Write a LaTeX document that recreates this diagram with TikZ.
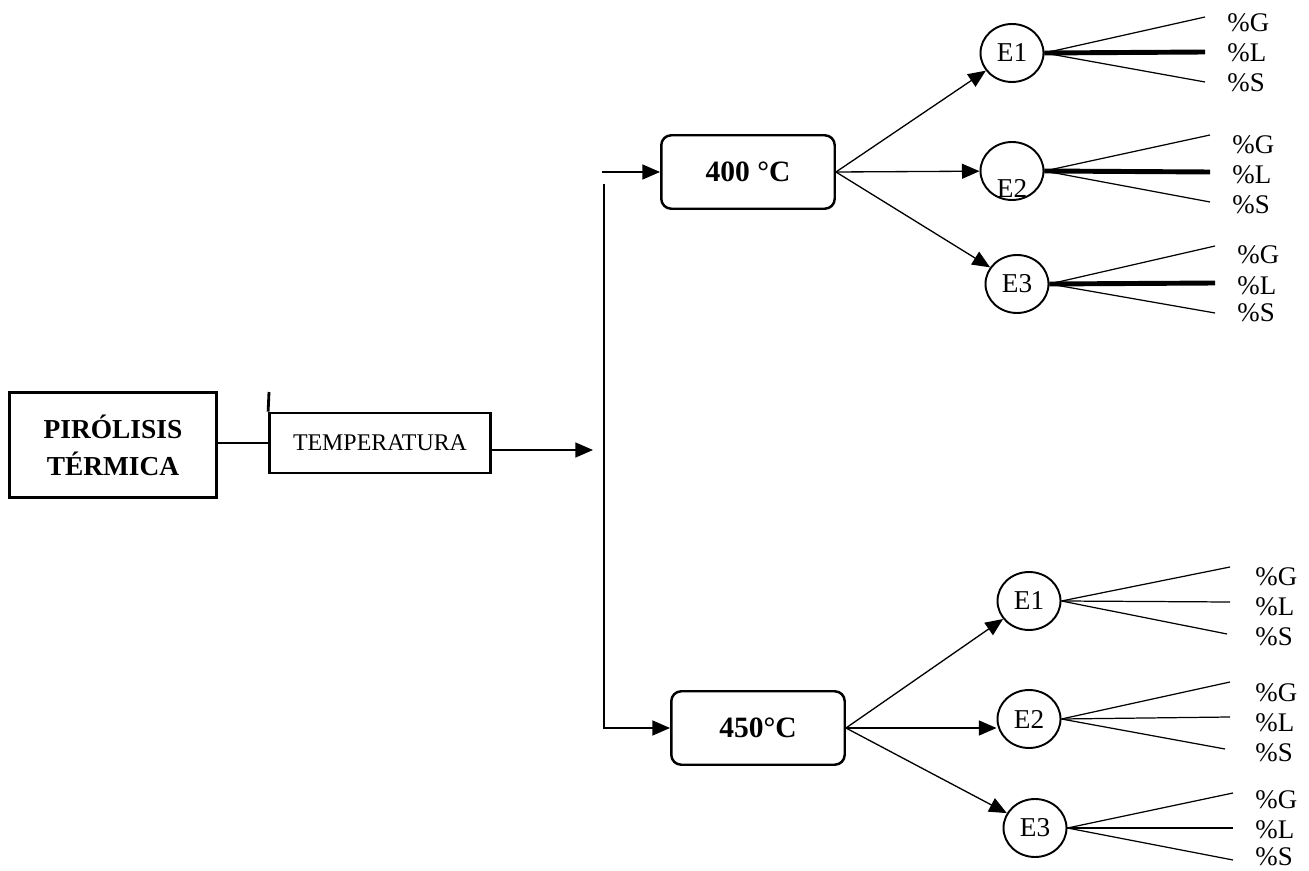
\documentclass[tikz,border=0pt]{standalone}
\usepackage{fontspec}
\setmainfont{Liberation Serif}
\usetikzlibrary{arrows.meta,shapes.geometric}

\begin{document}
\begin{tikzpicture}[x=0.02cm, y=-0.02cm,
  sq/.style={draw, line width=1.6pt, inner sep=0pt},
  rbox/.style={draw, line width=1.4pt, rounded corners=0.2cm, minimum width=3.47cm, minimum height=1.47cm, font=\fontsize{16.8}{20}\selectfont\bfseries},
  est/.style={draw, ellipse, line width=1.1pt, minimum width=1.26cm, minimum height=1.16cm, inner sep=0pt, font=\fontsize{15.5}{18}\selectfont},
  etxt/.style={inner sep=0pt, font=\fontsize{15.5}{18}\selectfont},
  pct/.style={anchor=west, inner sep=0pt, font=\fontsize{15.3}{18}\selectfont},
  conn/.style={line width=0.75pt},
  arr/.style={conn, -{Triangle[length=10pt, width=8.5pt]}},
  fan/.style={line width=0.7pt},
  fanbold/.style={line width=2.8pt}]

\useasboundingbox (0,0) rectangle (1309,871);

% left part
\node[sq, minimum width=4.14cm, minimum height=2.1cm, align=center, font=\fontsize{15.6}{21}\selectfont\bfseries] (pir) at (113,445) {PIRÓLISIS\\TÉRMICA};
\node[sq, minimum width=4.42cm, minimum height=1.2cm, font=\fontsize{13.6}{16}\selectfont] (temp) at (380,443) {TEMPERATURA};
\coordinate (tstub) at (269,392);
\draw[line width=1.6pt] (temp.north west) -- (tstub);
\draw[conn] (pir.east |- temp.west) -- (temp.west);

\coordinate (split) at (593,450);
\draw[arr] (temp.east |- split) -- (split);

% temperatures
\node[rbox] (b400) at (748,172) {400 °C};
\node[rbox] (b450) at (758,728) {450°C};
\coordinate (htop) at (602,172);
\coordinate (vtop) at (604,184);
\draw[arr] (htop) -- (b400);
\draw[arr] (vtop) |- (b450);

% experiments
\node[est] (e1a) at (1012,53) {E1};
\node[est] (e2a) at (1012,171) {};
\node[etxt] (e2at) at (1012,188) {E2};
\node[est] (e3a) at (1017,284) {E3};
\node[est] (e1b) at (1029,601) {E1};
\node[est] (e2b) at (1029,719) {E2};
\node[est] (e3b) at (1035,828) {E3};

\draw[arr] (b400.east) -- (e1a);
\draw[arr] (b400.east) -- (e2a);
\draw[arr] (b400.east) -- (e3a);
\draw[arr] (b450.east) -- (e1b);
\draw[arr] (b450.east) -- (b450.east -| e2b.west);
\draw[arr] (b450.east) -- (e3b);

% products
\foreach \c/\t/\ex/\ey/\lx/\ly/\st in {
  e1a/G/1205/17/1227/23/fan, e1a/L/1205/52/1227/53/fanbold, e1a/S/1205/82/1227/83/fan,
  e2a/G/1210/135/1232/145/fan, e2a/L/1210/172/1232/175/fanbold, e2a/S/1210/202/1232/205/fan,
  e3a/G/1215/246/1237/255/fan, e3a/L/1215/283/1237/286/fanbold, e3a/S/1215/313/1237/313/fan,
  e1b/G/1230/567/1255/577/fan, e1b/L/1230/602/1255/607/fan, e1b/S/1227/634/1255/637/fan,
  e2b/G/1230/682/1255/693/fan, e2b/L/1230/717/1255/723/fan, e2b/S/1225/749/1255/753/fan,
  e3b/G/1233/793/1255/800/fan, e3b/L/1233/828/1255/830/fan, e3b/S/1233/860/1255/857/fan}
{
  \coordinate (\c\t) at (\ex,\ey);
  \node[pct] (\c\t lbl) at (\lx,\ly) {\%\t};
  \draw[\st] (\c.east) -- (\c\t);
}
\end{tikzpicture}
\end{document}
